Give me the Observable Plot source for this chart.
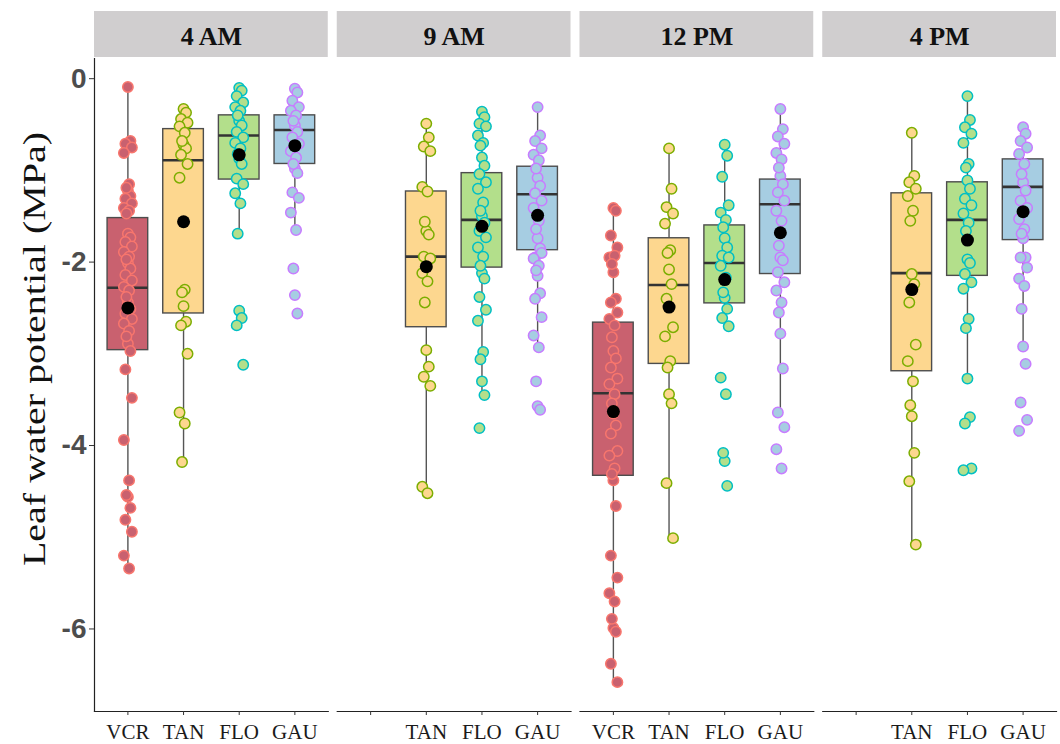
<!DOCTYPE html>
<html><head><meta charset="utf-8">
<script src="https://cdn.jsdelivr.net/npm/d3@7"></script>
<script src="https://cdn.jsdelivr.net/npm/@observablehq/plot@0.6"></script>
<style>body{margin:0;background:#fff}</style>
</head><body><div id="chart"></div>
<script>
// ---- data ----
const times = ["4 AM", "9 AM", "12 PM", "4 PM"];
const cultivars = ["VCR", "TAN", "FLO", "GAU"];
const yTicks = [0, -2, -4, -6];
const yTitle = "Leaf water potential (MPa)";

// box-plot summaries
const boxTime = ["4 AM","4 AM","4 AM","4 AM","9 AM","9 AM","9 AM","12 PM","12 PM","12 PM","12 PM","4 PM","4 PM","4 PM"];
const boxCult = ["VCR","TAN","FLO","GAU","TAN","FLO","GAU","VCR","TAN","FLO","GAU","TAN","FLO","GAU"];
const whiskerLow  = [-5.34,-4.18,-1.69,-1.65,-4.53,-3.45,-2.93,-6.58,-5.01,-2.70,-3.64,-5.08,-3.27,-2.92];
const quart1      = [-2.96,-2.56,-1.10,-0.93,-2.71,-2.06,-1.87,-4.33,-3.11,-2.45,-2.13,-3.19,-2.15,-1.76];
const medianVal   = [-2.28,-0.89,-0.62,-0.56,-1.94,-1.54,-1.26,-3.43,-2.25,-2.01,-1.37,-2.12,-1.54,-1.18];
const quart3      = [-1.52,-0.55,-0.40,-0.40,-1.23,-1.03,-0.96,-2.66,-1.74,-1.60,-1.10,-1.25,-1.13,-0.88];
const whiskerHigh = [-0.09,-0.33,-0.10,-0.11,-0.49,-0.36,-0.31,-1.41,-0.76,-0.72,-0.33,-0.59,-0.19,-0.53];
const meanVal     = [-2.50,-1.56,-0.83,-0.73,-2.05,-1.61,-1.49,-3.63,-2.49,-2.19,-1.68,-2.30,-1.76,-1.45];

// individual measurements
const am4VCR = [-0.09,-0.68,-0.71,-0.75,-0.81,-1.15,-1.19,-1.22,-1.28,-1.31,-1.36,-1.41,-1.44,-1.47,-1.69,-1.73,-1.78,-1.83,-1.89,-1.94,-1.97,-2.01,-2.07,-2.14,-2.20,-2.27,-2.31,-2.38,-2.44,-2.51,-2.56,-2.62,-2.67,-2.75,-2.81,-2.89,-2.97,-3.17,-3.48,-3.94,-4.38,-4.54,-4.56,-4.68,-4.81,-4.94,-5.20,-5.34];
const am4TAN = [-0.33,-0.37,-0.44,-0.48,-0.52,-0.59,-0.68,-0.72,-0.76,-0.83,-0.93,-1.08,-2.30,-2.33,-2.48,-2.65,-2.69,-3.00,-3.64,-3.76,-4.18];
const am4FLO = [-0.10,-0.13,-0.19,-0.26,-0.31,-0.35,-0.40,-0.46,-0.51,-0.58,-0.64,-0.70,-0.76,-0.82,-0.87,-0.93,-1.09,-1.15,-1.25,-1.36,-1.69,-2.53,-2.61,-2.69,-3.12];
const am4GAU = [-0.11,-0.15,-0.24,-0.31,-0.35,-0.40,-0.46,-0.51,-0.58,-0.64,-0.71,-0.79,-0.86,-0.93,-0.98,-1.03,-1.24,-1.30,-1.46,-1.65,-2.07,-2.36,-2.56];
const am9TAN = [-0.49,-0.64,-0.74,-0.79,-1.18,-1.23,-1.56,-1.66,-1.70,-1.94,-1.96,-2.12,-2.21,-2.44,-2.96,-3.14,-3.25,-3.35,-4.45,-4.52];
const am9FLO = [-0.36,-0.42,-0.49,-0.52,-0.62,-0.70,-0.73,-0.86,-0.95,-1.04,-1.13,-1.20,-1.35,-1.44,-1.50,-1.57,-1.66,-1.73,-1.84,-1.94,-2.04,-2.12,-2.18,-2.38,-2.52,-2.64,-2.98,-3.06,-3.30,-3.45,-3.81];
const am9GAU = [-0.31,-0.62,-0.68,-0.76,-0.83,-0.89,-0.98,-1.08,-1.17,-1.25,-1.33,-1.41,-1.55,-1.64,-1.74,-1.85,-1.95,-1.90,-1.96,-2.04,-2.09,-2.15,-2.34,-2.40,-2.60,-2.80,-2.93,-3.30,-3.57,-3.61];
const pm12VCR = [-1.41,-1.44,-1.71,-1.84,-1.95,-1.93,-2.02,-2.11,-2.40,-2.44,-2.55,-2.62,-2.69,-2.82,-2.97,-3.05,-3.15,-3.27,-3.33,-3.44,-3.54,-3.65,-3.78,-3.87,-4.06,-4.11,-4.25,-4.31,-4.38,-4.66,-5.20,-5.44,-5.61,-5.70,-5.89,-5.99,-6.03,-6.38,-6.58];
const pm12TAN = [-0.76,-1.20,-1.40,-1.47,-1.58,-1.87,-1.90,-2.08,-2.24,-2.40,-2.71,-2.81,-3.08,-3.15,-3.44,-3.54,-4.41,-5.01];
const pm12FLO = [-0.72,-0.84,-1.07,-1.38,-1.46,-1.54,-1.62,-1.74,-1.84,-1.93,-1.95,-2.04,-2.17,-2.33,-2.39,-2.51,-2.61,-2.70,-3.26,-3.44,-4.08,-4.17,-4.44];
const pm12GAU = [-0.33,-0.55,-0.63,-0.71,-0.81,-0.88,-0.97,-1.06,-1.15,-1.24,-1.33,-1.44,-1.55,-1.82,-1.95,-1.98,-2.11,-2.22,-2.31,-2.44,-2.55,-2.78,-3.16,-3.64,-3.80,-4.04,-4.25];
const pm4TAN = [-0.59,-1.06,-1.13,-1.20,-1.28,-1.44,-1.55,-2.13,-2.24,-2.44,-2.90,-3.08,-3.30,-3.56,-3.68,-4.08,-4.39,-5.08];
const pm4FLO = [-0.19,-0.45,-0.53,-0.60,-0.70,-0.93,-0.97,-1.11,-1.20,-1.31,-1.38,-1.47,-1.57,-1.66,-1.97,-2.01,-2.13,-2.22,-2.29,-2.62,-2.72,-3.27,-3.69,-3.76,-4.25,-4.27];
const pm4GAU = [-0.53,-0.60,-0.68,-0.75,-0.82,-0.93,-1.04,-1.13,-1.22,-1.33,-1.41,-1.53,-1.64,-1.69,-1.74,-1.95,-1.95,-2.06,-2.18,-2.26,-2.51,-2.92,-3.11,-3.53,-3.72,-3.84];

const pointSets = [
  ["4 AM","VCR",am4VCR],["4 AM","TAN",am4TAN],["4 AM","FLO",am4FLO],["4 AM","GAU",am4GAU],
  ["9 AM","TAN",am9TAN],["9 AM","FLO",am9FLO],["9 AM","GAU",am9GAU],
  ["12 PM","VCR",pm12VCR],["12 PM","TAN",pm12TAN],["12 PM","FLO",pm12FLO],["12 PM","GAU",pm12GAU],
  ["4 PM","TAN",pm4TAN],["4 PM","FLO",pm4FLO],["4 PM","GAU",pm4GAU]
];

// ---- styles ----
const boxFill = {VCR: "#c9616f", TAN: "#fdd78f", FLO: "#b3df8b", GAU: "#a6cde2"};
const pointStroke = {VCR: "#f8766d", TAN: "#7cae00", FLO: "#00bfc4", GAU: "#c77cff"};
const jitterPx = [0, 2.5, -2.5, 4, -4, 1.2, -1.5];
const serif = "'Liberation Serif', 'Times New Roman', serif";
const sans = "'Liberation Sans', Arial, sans-serif";

// ---- tables ----
const boxes = boxTime.map((t, i) => ({
  time: t, cult: boxCult[i], lo: whiskerLow[i], q1: quart1[i], med: medianVal[i],
  q3: quart3[i], hi: whiskerHigh[i], mean: meanVal[i]
}));
const points = pointSets.flatMap(([t, c, vals]) => vals.map((v, k) => ({time: t, cult: c, value: v, k})));

const yMin = -6.9, yMax = 0.22;

const dotMarks = jitterPx.map((dx, j) => Plot.dot(points, {
  filter: d => d.k % jitterPx.length === j,
  fx: "time", x: "cult", y: "value", dx,
  r: 5.2, fill: d => boxFill[d.cult], stroke: d => pointStroke[d.cult], strokeWidth: 1.5
}));

const chart = Plot.plot({
  width: 1060,
  height: 744,
  marginTop: 58,
  marginBottom: 33,
  marginLeft: 94,
  marginRight: 4,
  style: {fontFamily: serif, background: "#fff"},
  fx: {domain: times, paddingInner: 0.037, paddingOuter: 0, round: false, axis: null, label: null},
  x: {domain: cultivars, type: "band", paddingInner: 0.27, paddingOuter: 0.235, round: false, label: null},
  y: {domain: [yMin, yMax], label: null},
  color: {type: "identity"},
  marks: [
    // facet strips
    Plot.rect(times, {fx: d => d, y1: yMax, y2: yMax, insetTop: -47, insetBottom: 1, fill: "#d0cecf"}),
    Plot.text(times, {fx: d => d, text: d => d, frameAnchor: "top", lineAnchor: "middle", dy: -22,
      fontSize: 26, fontWeight: "bold", fontFamily: serif, fill: "#111"}),
    // axes
    Plot.frame({anchor: "bottom", stroke: "#222", strokeWidth: 1.2}),
    Plot.frame({anchor: "left", fx: () => "4 AM", stroke: "#222", strokeWidth: 1.2}),
    Plot.axisY({ticks: yTicks, tickFormat: d => String(d), tickSize: 5, tickPadding: 3,
      fontSize: 28, fontWeight: "bold", fontFamily: sans, fill: "#4d4d4d", stroke: "#333", label: null}),
    Plot.axisX({tickSize: 4, tickFormat: () => "", stroke: "#333", label: null}),
    Plot.text(boxes, {fx: "time", x: "cult", text: "cult", frameAnchor: "bottom", lineAnchor: "middle", dy: 21,
      fontSize: 21, fontFamily: serif, fill: "#1a1a1a"}),
    // boxplots
    Plot.ruleX(boxes, {fx: "time", x: "cult", y1: "lo", y2: "hi", stroke: "#555", strokeWidth: 1.4}),
    Plot.barY(boxes, {fx: "time", x: "cult", y1: "q1", y2: "q3", fill: d => boxFill[d.cult],
      stroke: "#4d4d4d", strokeWidth: 1.4}),
    Plot.tickY(boxes, {fx: "time", x: "cult", y: "med", stroke: "#333", strokeWidth: 2.6}),
    // raw points
    ...dotMarks,
    // means
    Plot.dot(boxes, {fx: "time", x: "cult", y: "mean", r: 6.5, fill: "black"}),
    // y title
    Plot.text([yTitle], {fx: () => "4 AM", text: d => d, frameAnchor: "left", textAnchor: "middle",
      lineAnchor: "middle", dx: -60, dy: -36, rotate: -90, fontSize: 32, fontFamily: serif, fill: "#111"})
  ]
});

// the reference's axis title is stretched along its length; mimic that
d3.select(chart).selectAll("text")
  .filter(function () { return this.textContent === yTitle; })
  .each(function () {
    const t = this.getAttribute("transform") || "";
    this.setAttribute("transform", (t + " scale(1.25,1)").trim());
  });

document.getElementById("chart").appendChild(chart);
</script></body></html>
